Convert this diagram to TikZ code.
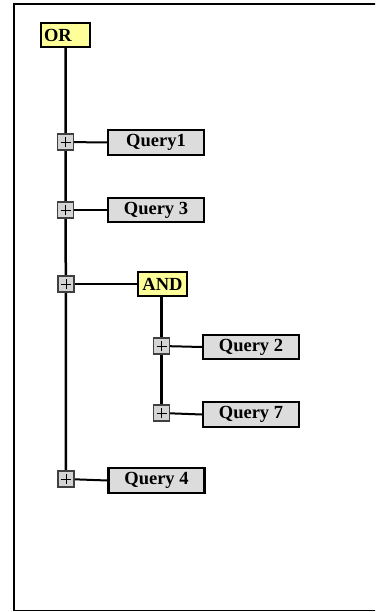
\documentclass[tikz,border=0pt]{standalone}
\usepackage{fontspec}
\setmainfont{Liberation Serif}
\usetikzlibrary{backgrounds}
\definecolor{opyellow}{HTML}{FFFF99}
\definecolor{qgray}{HTML}{DCDCDC}
\definecolor{pgray}{HTML}{D4D4D4}
\tikzset{
  opbox/.style={draw=black, line width=2.2pt, fill=opyellow, minimum height=24pt,
    inner sep=0pt, font=\fontsize{18.5}{19}\selectfont\bfseries},
  qbox/.style={draw=black, line width=2.2pt, fill=qgray, minimum width=96pt, minimum height=24.5pt,
    inner sep=0pt, font=\fontsize{18.5}{19}\selectfont\bfseries},
  plusbox/.style={draw=black!75, line width=1.3pt, fill=pgray, minimum size=16pt, inner sep=0pt,
    path picture={\draw[black, line width=0.9pt] ([xshift=-5pt]path picture bounding box.center) -- ([xshift=5pt]path picture bounding box.center);
      \draw[black, line width=0.9pt] ([yshift=-5pt]path picture bounding box.center) -- ([yshift=5pt]path picture bounding box.center);}},
  conn/.style={line width=2pt, black},
  vconn/.style={line width=2.5pt, black},
  frame/.style={line width=1.6pt, black}
}
\begin{document}
\begin{tikzpicture}[x=1pt,y=-1pt]
\useasboundingbox (0,0) rectangle (375,612);
\begin{scope}
\clip (0,0) rectangle (375,612);
\draw[frame] (390,4) -- (14,4) -- (14,610.5) -- (390,610.5);
\end{scope}
% operator boxes
\node[opbox, text width=43pt, align=left, inner xsep=3pt] (or) at (65.5,35) {OR};
\node[opbox, minimum width=49pt] (and) at (162.5,284) {AND};
% query boxes
\node[qbox] (q1) at (156,142.5) {Query1};
\node[qbox] (q3) at (156,210) {Query 3};
\node[qbox] (q2) at (251,347) {Query 2};
\node[qbox] (q7) at (251,414.5) {Query 7};
\node[qbox] (q4) at (156.5,480.5) {Query 4};
% plus boxes
\node[plusbox] (p1) at (65.5,142) {};
\node[plusbox] (p3) at (65.5,210) {};
\node[plusbox] (pa) at (66,284) {};
\node[plusbox] (p2) at (161.5,346) {};
\node[plusbox] (p7) at (161.5,413) {};
\node[plusbox] (p4) at (66,479) {};
\begin{pgfonlayer}{background}
\draw[vconn] (or.south -| p1) -- (p4.center);
\draw[vconn] (and.south -| p2) -- (p7.center);
\draw[conn] (p1.center) -- (q1.west);
\draw[conn] (p3.center) -- (q3.west);
\draw[conn] (pa.center) -- (and.west);
\draw[conn] (p2.center) -- (q2.west);
\draw[conn] (p7.center) -- (q7.west);
\draw[conn] (p4.center) -- (q4.west);
\end{pgfonlayer}
\end{tikzpicture}
\end{document}
